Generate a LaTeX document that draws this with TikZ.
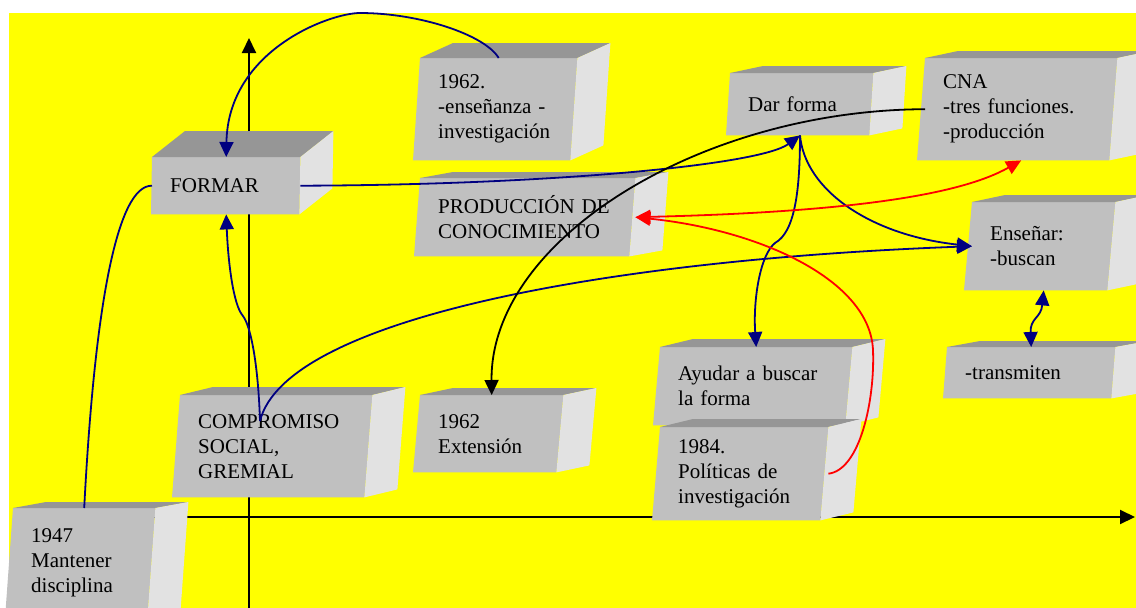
\documentclass[tikz,border=0pt]{standalone}
\usepackage{fontspec}
\setmainfont{Liberation Serif}
\usetikzlibrary{arrows.meta, backgrounds, calc}

\definecolor{canvas}{HTML}{FFFF00}
\definecolor{slabfront}{HTML}{C0C0C0}
\definecolor{slabtop}{HTML}{969696}
\definecolor{slabside}{HTML}{E2E2E2}
\definecolor{linkblue}{HTML}{000080}

\begin{document}
\begin{tikzpicture} [
    x=1pt, y=-1pt,
    >={Triangle[length=15pt, width=14pt]},
    slab/.style = {anchor=north west, inner xsep=18pt, inner ysep=0pt,
        align=left, font=\fontsize{21}{25}\selectfont},
    axis/.style = {line width=2pt, ->},
    blue line/.style = {draw=linkblue, line width=1.8pt},
    blue link/.style = {blue line, ->},
    black link/.style = {draw=black, line width=1.8pt, ->},
    red link/.style = {draw=red, line width=1.8pt, ->}]
    \useasboundingbox (0,0) rectangle (1136,608);
    % \draw [help lines, step=50] (0,0) grid (1136,608);
    \node (formar) [slab, text width=112pt, minimum height=57pt] at (152,157) {FORMAR};
    \node (ensenanza) [slab, text width=121pt, minimum height=102pt] at (420,58)
        {1962.\\-enseñanza -\\investigación};
    \node (produccion) [slab, text width=179pt, minimum height=78pt] at (420,178)
        {PRODUCCIÓN DE\\CONOCIMIENTO};
    \node (darforma) [slab, text width=107pt, minimum height=62pt] at (730,73) {Dar forma};
    \node (cna) [slab, text width=156pt, minimum height=102pt] at (925,58)
        {CNA\\-tres funciones.\\-producción};
    \node (ensenar) [slab, text width=107pt, minimum height=88pt] at (972,202)
        {Enseñar:\\-buscan};
    \node (transmiten) [slab, text width=132pt, minimum height=51pt] at (947,347) {-transmiten};
    \node (ayudar) [slab, text width=156pt, minimum height=78pt] at (660,347)
        {Ayudar a buscar\\la forma};
    \node (politicas) [slab, text width=132pt, minimum height=93pt] at (660,427)
        {1984.\\Políticas de\\investigación};
    \node (extension) [slab, text width=107pt, minimum height=77pt] at (420,395)
        {1962\\Extensión};
    \node (compromiso) [slab, text width=156pt, minimum height=102pt] at (180,395)
        {COMPROMISO\\SOCIAL,\\GREMIAL};
    \node (disciplina) [slab, text width=106pt, minimum height=110pt] at (13,508)
        {1947\\Mantener\\disciplina};

    \coordinate (dar) at ($(darforma.south west)+(70,0)$);
    \coordinate (social) at ($(compromiso.north west)+(80,26)$);
    \coordinate (ybot) at (249,620);
    \coordinate (ytop) at (249,38);
    \coordinate (xleft) at (150,517);
    \coordinate (xright) at (1135,517);

    \begin{scope}[on background layer]
        \fill [canvas] (9,13) rectangle (1140,612);
        \draw [axis] (ybot) -- (ytop);
        \draw [axis] (xleft) -- (xright);
        \foreach \n/\d/\s in {formar/26/1, ensenanza/15/7, produccion/6/6, darforma/7/4,
                cna/7/8, ensenar/7/8, transmiten/6/4, ayudar/8/7, politicas/8/8,
                extension/7/7, compromiso/8/8, disciplina/6/8} {
            \fill [slabfront] (\n.north west) -- (\n.north east)
                -- ($(\n.south east)+(-\s,0)$) -- ($(\n.south west)+(-\s,0)$) -- cycle;
            \fill [slabtop] (\n.north west) -- ($(\n.north west)+(33,-\d)$)
                -- ($(\n.north east)+(33,-\d)$) -- (\n.north east) -- cycle;
            \fill [slabside] (\n.north east) -- ($(\n.north east)+(33,-\d)$)
                -- ($(\n.south east)+(33-\s,-\d)$) -- ($(\n.south east)+(-\s,0)$) -- cycle;
        }
    \end{scope}

    \draw [blue link] (ensenanza.north) .. controls (485,35) and (420,13) .. (360,13)
        .. controls (330,13) and (228,50) .. (formar.north);
    \draw [blue line] (disciplina.north) .. controls (95,300) and (118,185) .. (formar.west);
    \draw [blue link] (social) .. controls (258,360) and (250,325) .. (243,316)
        .. controls (233,305) and (228,260) .. (formar.south);
    \draw [blue link] (social) .. controls (285,320) and (600,260) .. (ensenar.west);
    \draw [blue link] (formar.east) .. controls (550,185) and (760,165) .. (dar);
    \draw [blue link] (dar) .. controls (800,190) and (795,232) .. (775,243)
        .. controls (760,255) and (753,300) .. (ayudar.north);
    \draw [blue link] (dar) .. controls (805,190) and (870,235) .. (ensenar.west);
    \draw [blue link, <->] (ensenar.south) .. controls (1041,318) and (1030,318) .. (transmiten.north);
    \draw [black link] (cna.west) .. controls (700,110) and (490,240) .. (extension.north);
    \draw [red link, <->] (produccion.east) .. controls (850,212) and (960,195) .. (cna.south);
    \draw [red link] (politicas.east) .. controls (860,470) and (875,400) .. (873,350)
        .. controls (870,280) and (760,230) .. (produccion.east);
\end{tikzpicture}
\end{document}
